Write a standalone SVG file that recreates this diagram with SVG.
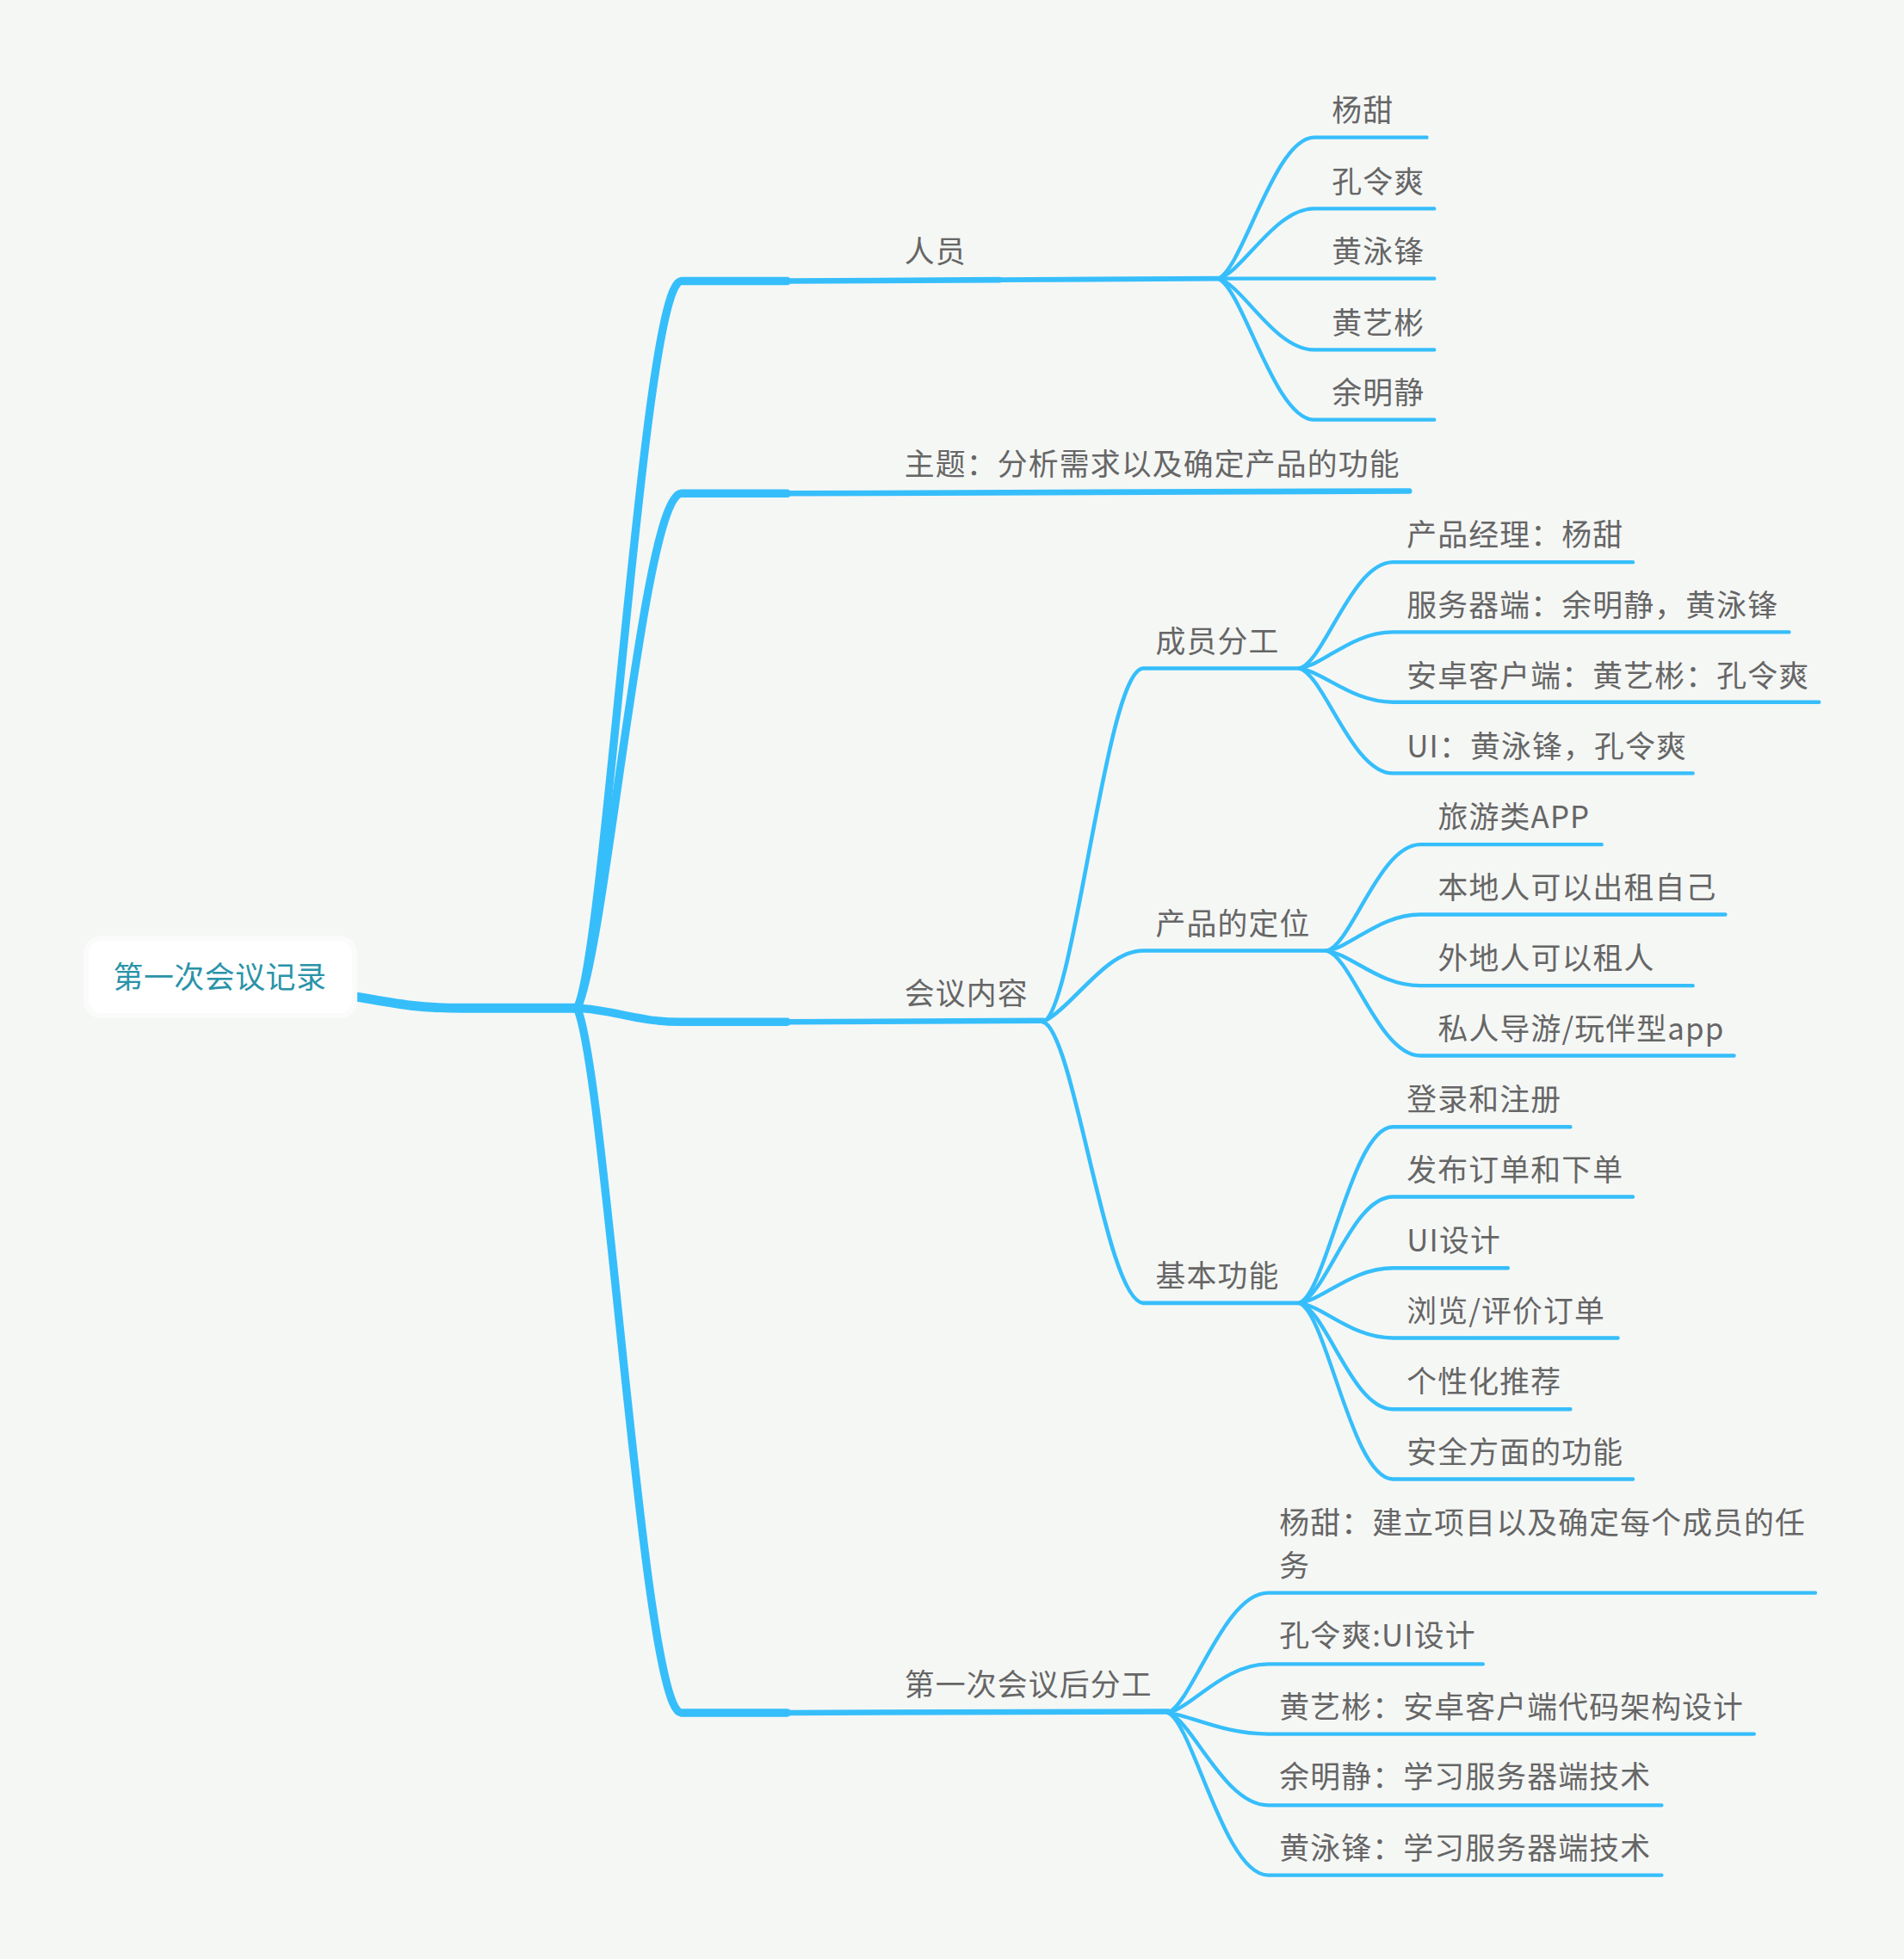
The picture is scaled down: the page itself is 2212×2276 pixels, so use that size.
<svg xmlns="http://www.w3.org/2000/svg" width="2212" height="2276" viewBox="0 0 2212 2276">
<style>
.t{font-family:"Noto Sans CJK SC","Liberation Sans",sans-serif;font-size:24px;fill:#666666;letter-spacing:0.8px}
.r{font-family:"Noto Sans CJK SC","Liberation Sans",sans-serif;font-size:24px;fill:#2a93a8;letter-spacing:0.4px}
.m{fill:none;stroke:#36befb;stroke-linecap:round;stroke-linejoin:round}
.s{fill:none;stroke:#36befb;stroke-width:3.2;stroke-linecap:round}
.l{fill:none;stroke:#36befb;stroke-width:3;stroke-linecap:round}
</style>
<rect width="2212" height="2276" fill="#f5f7f5"/>
<g transform="scale(1.45144)">
<g id="connectors">
<path class="m" stroke-width="7.5" d="M280,797 C320,804 335,807 370,807 L462,807"/>
<path class="m" stroke-width="6.5" d="M462,807 C485,760 515,228 545,225 L630,225"/>
<path class="m" stroke-width="4.5" d="M630,225 L800,224"/>
<path class="m" stroke-width="4" d="M800,224 L975,223"/>
<path class="m" stroke-width="6.5" d="M462,807 C485,760 515,398 545,395 L630,395"/>
<path class="m" stroke-width="4.5" d="M630,395 L1128,393"/>
<path class="m" stroke-width="6.5" d="M462,807 C490,808 510,818 545,818 L630,818"/>
<path class="m" stroke-width="4.5" d="M630,818 L835,817"/>
<path class="m" stroke-width="6.5" d="M462,807 C485,860 515,1368 545,1371 L630,1371"/>
<path class="m" stroke-width="4.5" d="M630,1371 L935,1370"/>
<path class="l" d="M975,223 C995,215 1020,110 1052,110 L1142,110"/>
<path class="l" d="M975,223 C995,218 1020,167 1052,167 L1148,167"/>
<path class="l" d="M975,223 L1148,223"/>
<path class="l" d="M975,223 C995,228 1020,280 1052,280 L1148,280"/>
<path class="l" d="M975,223 C995,231 1020,336 1052,336 L1148,336"/>
<path class="s" d="M835,818 C860,810 885,537 915,535 L1040,535"/>
<path class="s" d="M835,818 C860,805 885,761 915,761 L1062,761"/>
<path class="s" d="M835,818 C860,826 885,1041 915,1043 L1040,1043"/>
<path class="l" d="M1040,535 C1060,530 1082,450 1115,450 L1307,450"/>
<path class="l" d="M1040,535 C1060,532 1082,506 1115,506 L1432,506"/>
<path class="l" d="M1040,535 C1060,538 1082,562 1115,562 L1456,562"/>
<path class="l" d="M1040,535 C1060,540 1082,619 1115,619 L1355,619"/>
<path class="l" d="M1062,761 C1082,756 1104,676 1137,676 L1282,676"/>
<path class="l" d="M1062,761 C1082,758 1104,732 1137,732 L1381,732"/>
<path class="l" d="M1062,761 C1082,764 1104,789 1137,789 L1355,789"/>
<path class="l" d="M1062,761 C1082,766 1104,845 1137,845 L1388,845"/>
<path class="l" d="M1040,1043 C1062,1035 1082,902 1115,902 L1257,902"/>
<path class="l" d="M1040,1043 C1062,1037 1082,958 1115,958 L1307,958"/>
<path class="l" d="M1040,1043 C1060,1040 1082,1015 1115,1015 L1207,1015"/>
<path class="l" d="M1040,1043 C1060,1046 1082,1071 1115,1071 L1295,1071"/>
<path class="l" d="M1040,1043 C1062,1049 1082,1128 1115,1128 L1257,1128"/>
<path class="l" d="M1040,1043 C1062,1051 1082,1184 1115,1184 L1307,1184"/>
<path class="l" d="M935,1371 C955,1362 980,1275 1015,1275 L1453,1275"/>
<path class="l" d="M935,1371 C955,1366 980,1332 1015,1332 L1187,1332"/>
<path class="l" d="M935,1371 C955,1374 980,1388 1015,1388 L1404,1388"/>
<path class="l" d="M935,1371 C955,1378 980,1445 1015,1445 L1330,1445"/>
<path class="l" d="M935,1371 C955,1380 980,1501 1015,1501 L1330,1501"/>
</g>
<g id="root">
<rect x="67" y="749" width="219" height="66" rx="14" fill="#fafbfa"/>
<rect x="71" y="753" width="211" height="58" rx="11" fill="#ffffff"/>
<text class="r" x="176" y="791" text-anchor="middle">第一次会议记录</text>
</g>
<g id="n-renyuan"><text class="t" x="724" y="210">人员</text></g>
<g id="n-yangtian"><text class="t" x="1066" y="97">杨甜</text></g>
<g id="n-konglingshuang"><text class="t" x="1066" y="154">孔令爽</text></g>
<g id="n-huangyongfeng"><text class="t" x="1066" y="210">黄泳锋</text></g>
<g id="n-huangyibin"><text class="t" x="1066" y="267">黄艺彬</text></g>
<g id="n-yumingjing"><text class="t" x="1066" y="323">余明静</text></g>
<g id="n-zhuti"><text class="t" x="724" y="380">主题：分析需求以及确定产品的功能</text></g>
<g id="n-huiyineirong"><text class="t" x="724" y="804">会议内容</text></g>
<g id="n-chengyuanfengong"><text class="t" x="925" y="522">成员分工</text></g>
<g id="n-cy1"><text class="t" x="1126" y="437">产品经理：杨甜</text></g>
<g id="n-cy2"><text class="t" x="1126" y="493">服务器端：余明静，黄泳锋</text></g>
<g id="n-cy3"><text class="t" x="1126" y="550">安卓客户端：黄艺彬：孔令爽</text></g>
<g id="n-cy4"><text class="t" x="1126" y="606">UI：黄泳锋，孔令爽</text></g>
<g id="n-dingwei"><text class="t" x="925" y="748">产品的定位</text></g>
<g id="n-dw1"><text class="t" x="1151" y="663">旅游类APP</text></g>
<g id="n-dw2"><text class="t" x="1151" y="719">本地人可以出租自己</text></g>
<g id="n-dw3"><text class="t" x="1151" y="776">外地人可以租人</text></g>
<g id="n-dw4"><text class="t" x="1151" y="832">私人导游/玩伴型app</text></g>
<g id="n-gongneng"><text class="t" x="925" y="1030">基本功能</text></g>
<g id="n-gn1"><text class="t" x="1126" y="889">登录和注册</text></g>
<g id="n-gn2"><text class="t" x="1126" y="945">发布订单和下单</text></g>
<g id="n-gn3"><text class="t" x="1126" y="1002">UI设计</text></g>
<g id="n-gn4"><text class="t" x="1126" y="1058">浏览/评价订单</text></g>
<g id="n-gn5"><text class="t" x="1126" y="1115">个性化推荐</text></g>
<g id="n-gn6"><text class="t" x="1126" y="1171">安全方面的功能</text></g>
<g id="n-fengong"><text class="t" x="724" y="1357">第一次会议后分工</text></g>
<g id="n-fg1"><text class="t" x="1024" y="1228">杨甜：建立项目以及确定每个成员的任</text><text class="t" x="1024" y="1262">务</text></g>
<g id="n-fg2"><text class="t" x="1024" y="1318">孔令爽:UI设计</text></g>
<g id="n-fg3"><text class="t" x="1024" y="1375">黄艺彬：安卓客户端代码架构设计</text></g>
<g id="n-fg4"><text class="t" x="1024" y="1431">余明静：学习服务器端技术</text></g>
<g id="n-fg5"><text class="t" x="1024" y="1488">黄泳锋：学习服务器端技术</text></g>
</g>
</svg>
